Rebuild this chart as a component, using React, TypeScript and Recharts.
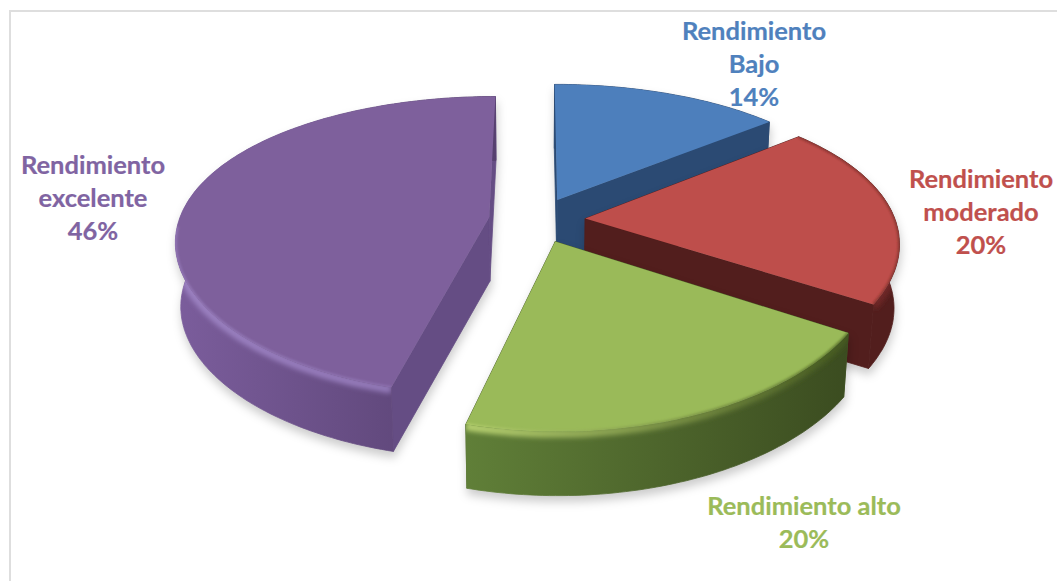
import { PieChart, Pie } from 'recharts';

const categories = ['Rendimiento Bajo', 'Rendimiento moderado', 'Rendimiento alto', 'Rendimiento excelente'];
const labelLines = [['Rendimiento', 'Bajo'], ['Rendimiento', 'moderado'], ['Rendimiento alto'], ['Rendimiento', 'excelente']];
const values = [14, 20, 20, 46];

const labelColors = ['#4f81bd', '#c0504d', '#9bbb59', '#8064a2'];
const topColors = ['#4d7fbc', '#be4e4b', '#9aba59', '#7e609c'];
const faceColors = ['#2b4a73', '#521e1d', '#4a6128', '#654d84'];
const wallFrom = ['#2b4a73', '#521e1d', '#607f38', '#7b5d9c'];
const wallTo = ['#2b4a73', '#521e1d', '#3b4c20', '#56406f'];
const rimFrom = ['#3f6a9f', '#6e2826', '#b9d372', '#9c82c2'];
const rimTo = ['#2f5482', '#6e2826', '#44581f', '#8f75b4'];
// bevel only runs along the part of the arc nearer than this
const rimFloor = [2, -1, -0.1, 0.05];
const labelAnchors = [
  { x: 754, y: 40 },
  { x: 981, y: 188 },
  { x: 804, y: 515 },
  { x: 93, y: 174 },
];

const rows = values.map((value, i) => ({ name: categories[i], value }));

const TILT = 0.4665;
const PERSPECTIVE_X = 0.15;
const PERSPECTIVE_Y = 0.19;
const EXPLODE = 0.156;
const DEPTH = 64;
const BASE_SHRINK = 0.985;
const LINE_HEIGHT = 33;

const rad = (deg: number) => (deg * Math.PI) / 180;

function Slice3D(props: any) {
  const { cx, cy, outerRadius, startAngle, endAngle, index = 0 } = props;
  const i = index ?? 0;
  const mid = (startAngle + endAngle) / 2;
  const shiftU = EXPLODE * Math.cos(rad(mid));
  const shiftV = -EXPLODE * Math.sin(rad(mid));

  // plane of the pie -> screen, nearer points get larger
  const project = (u: number, v: number) => ({
    x: cx + (outerRadius * u) / (1 - PERSPECTIVE_X * v),
    y: cy + (outerRadius * TILT * v) / (1 - PERSPECTIVE_Y * v),
  });
  const top = (u: number, v: number) => project(u + shiftU, v + shiftV);
  const base = (p: { x: number; y: number }) => ({
    x: cx + (p.x - cx) * BASE_SHRINK,
    y: p.y + DEPTH,
  });
  const path = (pts: { x: number; y: number }[], close = true) =>
    pts.map((p, n) => `${n ? 'L' : 'M'}${p.x.toFixed(1)} ${p.y.toFixed(1)}`).join(' ') + (close ? ' Z' : '');

  const arc: { x: number; y: number }[] = [];
  const rim: { x: number; y: number }[] = [];
  const steps = Math.ceil(Math.abs(endAngle - startAngle));
  for (let n = 0; n <= steps; n++) {
    const a = rad(startAngle + ((endAngle - startAngle) * n) / steps);
    const point = top(Math.cos(a), -Math.sin(a));
    arc.push(point);
    if (-Math.sin(a) >= rimFloor[i]) rim.push(point);
  }
  const apex = top(0, 0);
  const first = arc[0];
  const last = arc[arc.length - 1];
  const xs = arc.map((p) => p.x);
  const minX = Math.min(...xs);
  const maxX = Math.max(...xs);

  const wall = [...arc, ...arc.map(base).reverse()];
  const gradient = (id: string, from: string, to: string) => (
    <linearGradient id={id} gradientUnits="userSpaceOnUse" x1={minX} x2={maxX} y1={0} y2={0}>
      <stop offset="0%" stopColor={from} />
      <stop offset="100%" stopColor={to} />
    </linearGradient>
  );

  return (
    <g style={{ filter: 'drop-shadow(1px 6px 5px rgba(0,0,0,0.2))' }}>
      <defs>
        {gradient(`wall-${i}`, wallFrom[i], wallTo[i])}
        {gradient(`rim-${i}`, rimFrom[i], rimTo[i])}
        <filter id={`soft-${i}`} x="-10%" y="-10%" width="120%" height="120%">
          <feGaussianBlur stdDeviation="2.5" />
        </filter>
        <filter id={`edge-${i}`} x="-10%" y="-10%" width="120%" height="120%">
          <feGaussianBlur stdDeviation="0.8" />
        </filter>
        <clipPath id={`wall-clip-${i}`}>
          <path d={path(wall)} />
        </clipPath>
        <clipPath id={`top-clip-${i}`}>
          <path d={path([apex, ...arc])} />
        </clipPath>
      </defs>
      <path
        d={path([apex, first, base(first), base(apex)])}
        fill={faceColors[i]}
        stroke={faceColors[i]}
        strokeWidth={0.8}
      />
      <path
        d={path([apex, last, base(last), base(apex)])}
        fill={faceColors[i]}
        stroke={faceColors[i]}
        strokeWidth={0.8}
      />
      <path d={path(wall)} fill={`url(#wall-${i})`} stroke={`url(#wall-${i})`} strokeWidth={0.8} />
      {rim.length > 1 && (
        <g clipPath={`url(#wall-clip-${i})`}>
          <path
            d={path(rim, false)}
            transform="translate(0 2)"
            fill="none"
            stroke={`url(#rim-${i})`}
            strokeWidth={8}
            filter={`url(#soft-${i})`}
          />
        </g>
      )}
      <path d={path([apex, ...arc])} fill={topColors[i]} />
      {rim.length > 1 && (
        <g clipPath={`url(#top-clip-${i})`}>
          <path
            d={path(rim, false)}
            fill="none"
            stroke={`url(#rim-${i})`}
            strokeOpacity={0.65}
            strokeWidth={3}
            filter={`url(#edge-${i})`}
          />
        </g>
      )}
    </g>
  );
}

function SliceLabel(props: any) {
  const { index, value } = props;
  const anchor = labelAnchors[index];
  const lines = [...labelLines[index], `${value}%`];
  return (
    <text
      x={anchor.x}
      y={anchor.y}
      textAnchor="middle"
      fontFamily="Lato, sans-serif"
      fontWeight={700}
      fontSize={25.5}
      fill={labelColors[index]}
      stroke={labelColors[index]}
      strokeWidth={0.2}
    >
      {lines.map((line, n) => (
        <tspan key={line} x={anchor.x} dy={n ? LINE_HEIGHT : 0}>
          {line}
        </tspan>
      ))}
    </text>
  );
}

export default function App() {
  return (
    <div style={{ position: 'absolute', left: 0, top: 0, width: 1057, height: 581, overflow: 'hidden', background: '#fff' }}>
      <div
        style={{
          position: 'absolute',
          left: 9,
          top: 10,
          right: 0,
          bottom: 0,
          borderTop: '2px solid #dedede',
          borderLeft: '2px solid #dedede',
        }}
      />
      <PieChart width={1057} height={581} margin={{ top: 0, right: 0, bottom: 0, left: 0 }}>
        <Pie
          data={rows}
          dataKey="value"
          nameKey="name"
          cx={537}
          cy={220}
          innerRadius={0}
          outerRadius={310}
          startAngle={90}
          endAngle={-270}
          stroke="none"
          shape={Slice3D}
          label={SliceLabel}
          labelLine={false}
          isAnimationActive={false}
        />
      </PieChart>
    </div>
  );
}
